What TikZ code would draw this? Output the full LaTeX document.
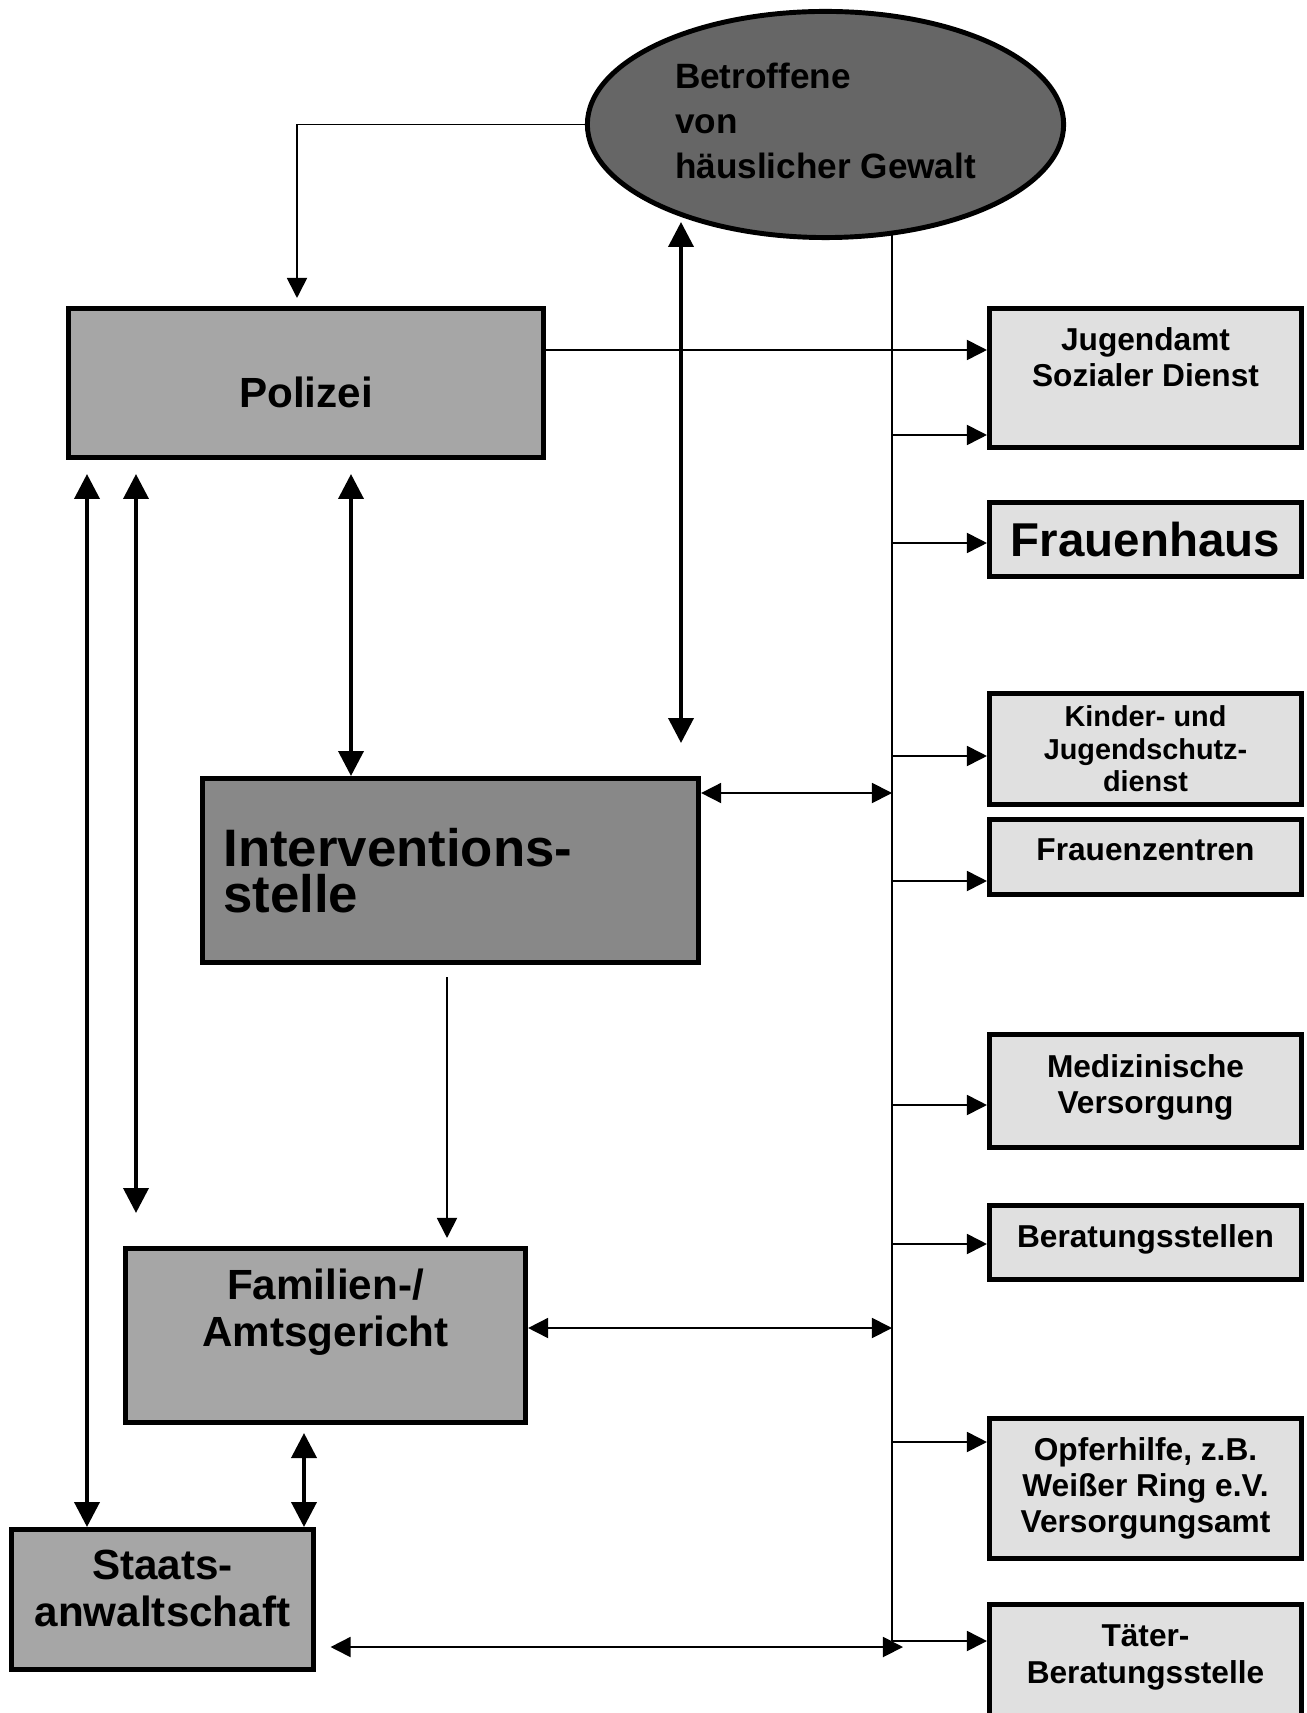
\documentclass[tikz,border=0pt]{standalone}
\usepackage{fontspec}
\setmainfont{Liberation Sans}
\usetikzlibrary{arrows.meta,positioning,shapes.geometric}
\definecolor{gvdark}{HTML}{666666}
\definecolor{gvmid}{HTML}{888888}
\definecolor{gvgray}{HTML}{A6A6A6}
\definecolor{gvlight}{HTML}{E0E0E0}
\newcommand{\pushup}[1]{\rule[-#1]{0pt}{#1}}
\newcommand{\pushdown}[1]{\rule{0pt}{#1}}

\begin{document}
\begin{tikzpicture}[
  x=0.01cm, y=-0.01cm,
  every node/.style={draw, line width=1.4pt, inner sep=0pt, align=center},
  agency/.style={fill=gvgray, font=\bfseries\fontsize{12}{13.4}\selectfont},
  service/.style={fill=gvlight, minimum width=3.12cm, font=\bfseries\fontsize{9}{10.3}\selectfont},
  wire/.style={line width=0.5pt},
  towards/.style={wire, -{Triangle[length=5.7pt, width=5.7pt]}},
  mutual/.style={wire, {Triangle[length=5.7pt, width=5.7pt]}-{Triangle[length=5.7pt, width=5.7pt]}},
  strong/.style={line width=1.1pt, {Triangle[length=7.1pt, width=7.1pt]}-{Triangle[length=7.1pt, width=7.1pt]}}
]

  \path[use as bounding box, fill=white] (0,0) rectangle (1306,1713);

  \node[ellipse, fill=gvdark, minimum width=4.76cm, minimum height=2.26cm, align=left,
    font=\bfseries\fontsize{10}{12.8}\selectfont] (betr) at (825.5,124.5) {Betroffene\\von\\häuslicher Gewalt\pushup{2pt}};

  \node[agency, minimum width=4.75cm, minimum height=1.49cm] (polizei) at (306,383) {\pushdown{13.8pt}Polizei};
  \node[fill=gvmid, minimum width=4.96cm, minimum height=1.84cm, text width=4.54cm, align=left,
    font=\bfseries\fontsize{15}{13.1}\selectfont] (interv) at (450.5,870.5) {Interventions-\\stelle};
  \node[agency, minimum width=4cm, minimum height=1.74cm] (famil) at (325.5,1335.5) {Familien-/\\Amtsgericht\pushup{16pt}};
  \node[agency, minimum width=3.02cm, minimum height=1.4cm] (staats) at (162.5,1599.5) {Staats-\\anwaltschaft\pushup{6.5pt}};

  \node[service, minimum height=1.39cm] (jug) at (1145.5,378) {Jugendamt\\Sozialer Dienst\pushup{12pt}};
  \node[service, minimum height=0.74cm, font=\bfseries\fontsize{13.5}{15}\selectfont] (fhaus) at (1145.5,539.5) {Frauenhaus};
  \node[service, minimum height=1.11cm, font=\bfseries\fontsize{8.2}{9.25}\selectfont] (kjd) at (1145.5,749) {Kinder- und\\Jugendschutz-\\dienst};
  \node[service, minimum height=0.75cm] (fzen) at (1145.5,857) {Frauenzentren\pushup{4pt}};
  \node[service, minimum height=1.13cm] (med) at (1145.5,1091) {Medizinische\\Versorgung\pushup{4pt}};
  \node[service, minimum height=0.74cm] (ber) at (1145.5,1242.5) {Beratungsstellen\pushup{3.7pt}};
  \node[service, minimum height=1.4cm] (opfer) at (1145.5,1488.5) {Opferhilfe, z.B.\\Weißer Ring e.V.\\Versorgungsamt};
  \node[service, minimum height=1.33cm] (taeter) at (1145.5,1671) {Täter-\\Beratungsstelle\pushup{9.7pt}};

  \coordinate (trunk) at (892,232);
  \coordinate (hub) at (681,222);
  \coordinate (hubend) at (681,743);

  \draw[towards, shorten >=0.08cm] (betr.west) -| ([xshift=-0.09cm]polizei.north);
  \draw[wire] (trunk) -- (trunk |- 0,1641);
  \draw[towards] (polizei.east |- 0,350) -- (jug.west |- 0,350);
  \foreach \y/\t in {435/jug, 543/fhaus, 756/kjd, 881/fzen, 1105/med, 1244/ber, 1442/opfer, 1641/taeter}
    \draw[towards] (trunk |- 0,\y) -- (\t.west |- 0,\y);

  \draw[strong] (hub) -- (hubend);
  \draw[strong, shorten <=0.14cm] (polizei.south -| 351,0) -- (interv.north -| 351,0);
  \draw[strong, shorten <=0.14cm, shorten >=0.33cm] (polizei.south -| 136,0) -- (famil.north -| 136,0);
  \draw[strong, shorten <=0.14cm] (polizei.south -| 87,0) -- (staats.north -| 87,0);
  \draw[towards, shorten <=0.12cm, shorten >=0.08cm] (interv.south -| 447,0) -- (famil.north -| 447,0);
  \draw[mutual] (interv.east |- 0,793) -- (trunk |- 0,793);
  \draw[mutual] (famil.east |- 0,1328) -- (trunk |- 0,1328);
  \draw[strong, shorten <=0.08cm] (famil.south -| 304,0) -- (staats.north -| 304,0);
  \draw[mutual, shorten <=0.145cm, shorten >=-0.11cm] (staats.east |- 0,1647) -- (trunk |- 0,1647);

\end{tikzpicture}
\end{document}
